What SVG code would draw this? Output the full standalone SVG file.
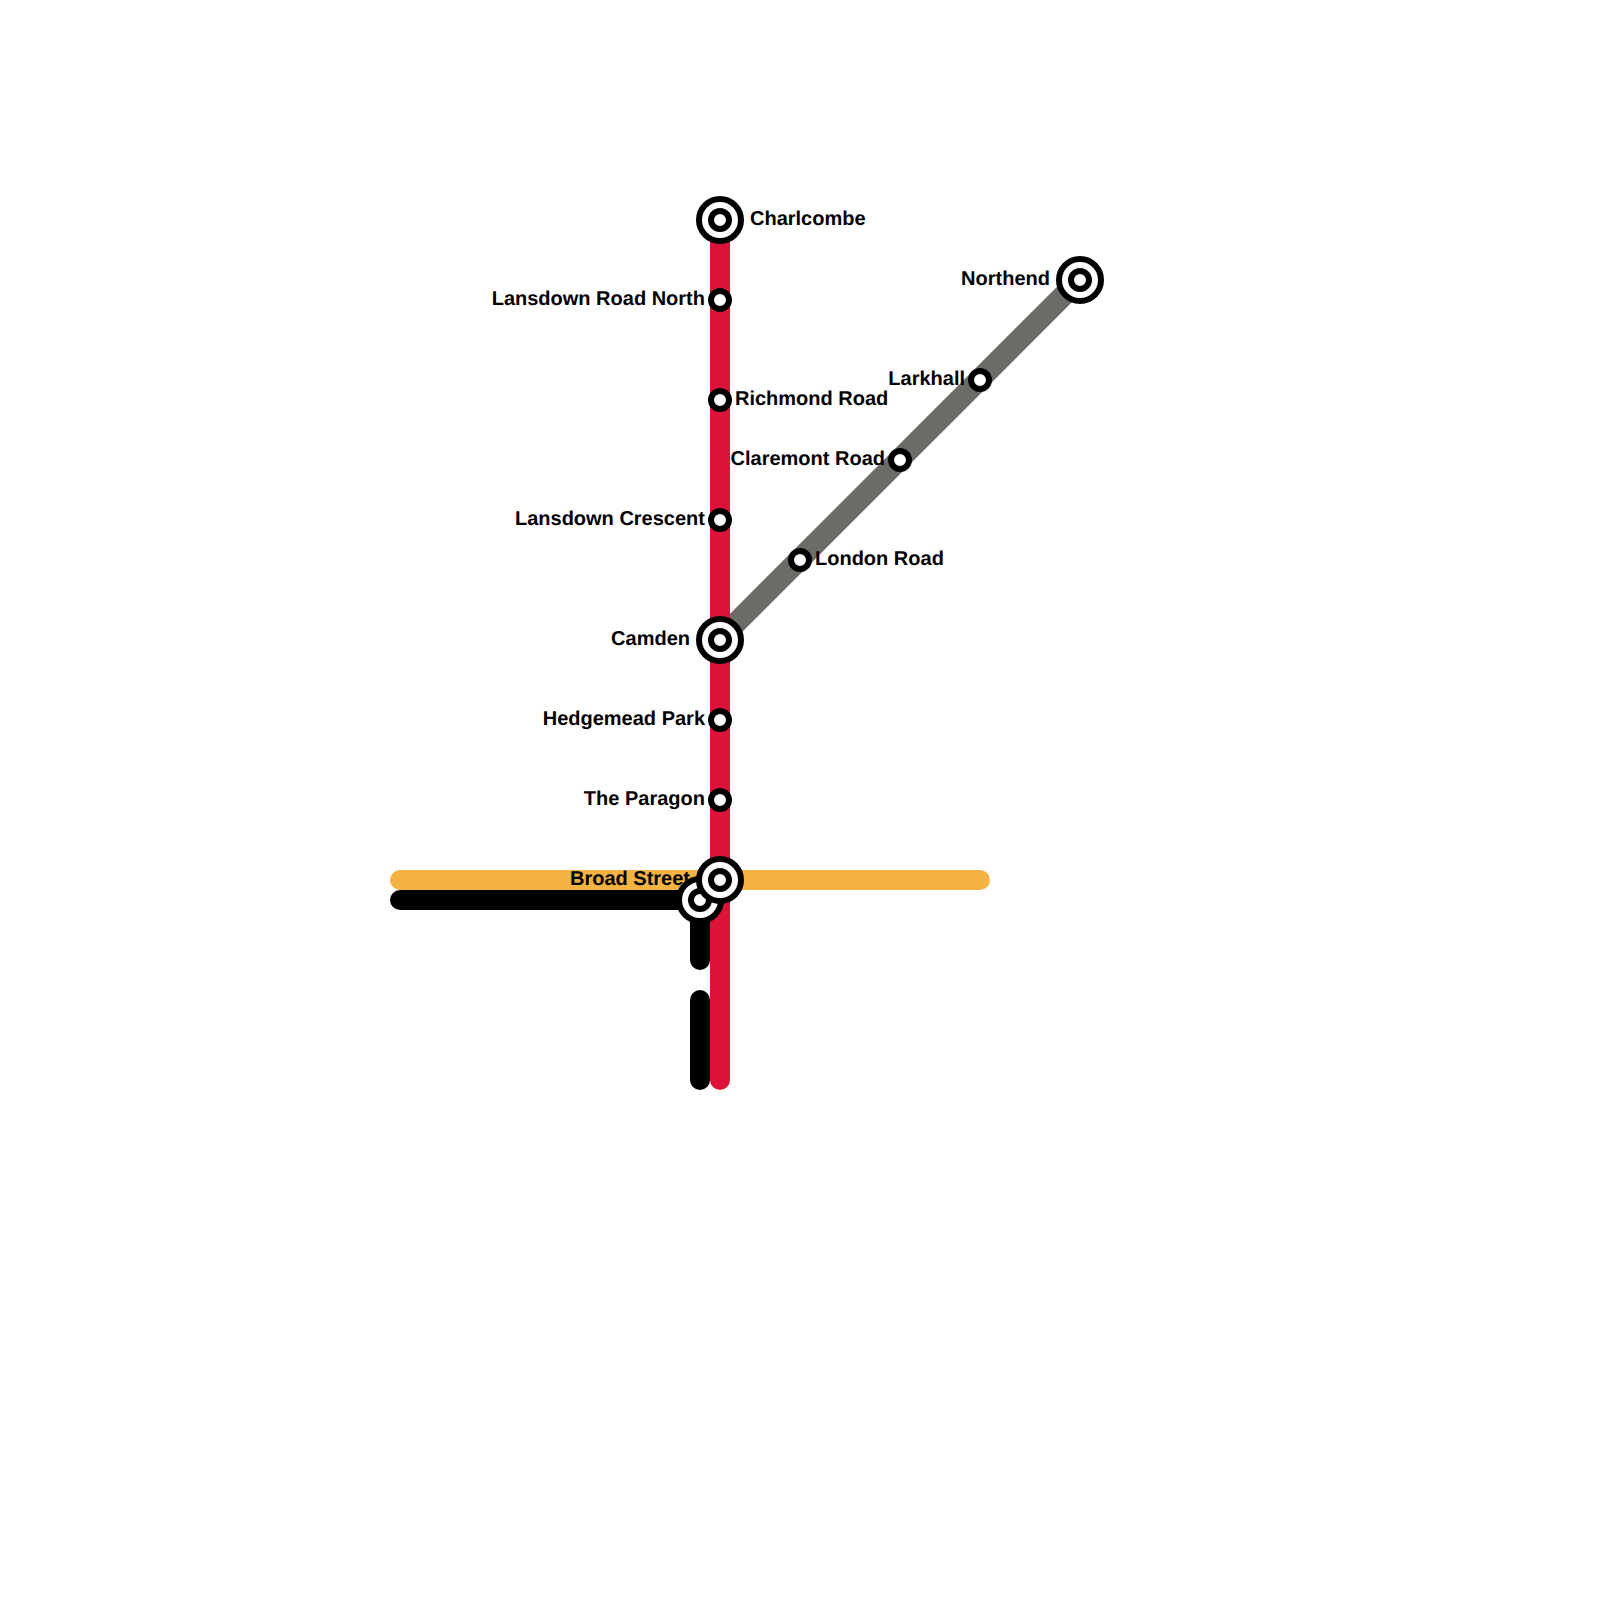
<svg xmlns="http://www.w3.org/2000/svg" width="1600" height="1600" viewBox="0 0 1600 1600">
<style>
.l{fill:none;stroke-width:20;stroke-linecap:round;stroke-linejoin:round}
.s{fill:#fff;stroke:#000;stroke-width:6}
text{font-family:"Liberation Sans",Arial,sans-serif;font-weight:700;font-size:20px;fill:#000;text-rendering:geometricPrecision}
.e{text-anchor:end}
</style>
<rect width="1600" height="1600" fill="#fff"/>
<g id="connectors">
<path class="l" stroke="#f4b342" d="M400 880H980"/>
<path class="l" stroke="#6a6c66" style="stroke-width:21.5" d="M719.5 639.5L1079.5 279.5"/>
<path class="l" stroke="#000" d="M400 900H700V960"/>
<path class="l" stroke="#000" d="M700 1000V1080"/>
<path class="l" stroke="#dc1238" d="M720 220V1080"/>
</g>
<g id="labels">
<text x="750" y="225">Charlcombe</text>
<text class="e" x="705" y="305">Lansdown Road North</text>
<text x="735" y="405">Richmond Road</text>
<text class="e" x="705" y="525">Lansdown Crescent</text>
<text class="e" x="690" y="645">Camden</text>
<text class="e" x="705" y="725">Hedgemead Park</text>
<text class="e" x="705" y="805">The Paragon</text>
<text class="e" x="690" y="885">Broad Street</text>
<text class="e" x="1050" y="285">Northend</text>
<text class="e" x="965" y="385">Larkhall</text>
<text class="e" x="885" y="465">Claremont Road</text>
<text x="815" y="565">London Road</text>
</g>
<g id="station-black"><circle class="s" cx="700" cy="900" r="21"/><circle class="s" cx="700" cy="900" r="9"/></g>
<g id="station-charlcombe"><circle class="s" cx="720" cy="220" r="21"/><circle class="s" cx="720" cy="220" r="9"/></g>
<g id="station-lansdown-road-north"><circle class="s" cx="720" cy="300" r="9"/></g>
<g id="station-richmond-road"><circle class="s" cx="720" cy="400" r="9"/></g>
<g id="station-lansdown-crescent"><circle class="s" cx="720" cy="520" r="9"/></g>
<g id="station-camden"><circle class="s" cx="720" cy="640" r="21"/><circle class="s" cx="720" cy="640" r="9"/></g>
<g id="station-hedgemead-park"><circle class="s" cx="720" cy="720" r="9"/></g>
<g id="station-the-paragon"><circle class="s" cx="720" cy="800" r="9"/></g>
<g id="station-broad-street"><circle class="s" cx="720" cy="880" r="21"/><circle class="s" cx="720" cy="880" r="9"/></g>
<g id="station-northend"><circle class="s" cx="1080" cy="280" r="21"/><circle class="s" cx="1080" cy="280" r="9"/></g>
<g id="station-larkhall"><circle class="s" cx="980" cy="380" r="9"/></g>
<g id="station-claremont-road"><circle class="s" cx="900" cy="460" r="9"/></g>
<g id="station-london-road"><circle class="s" cx="800" cy="560" r="9"/></g>
</svg>
